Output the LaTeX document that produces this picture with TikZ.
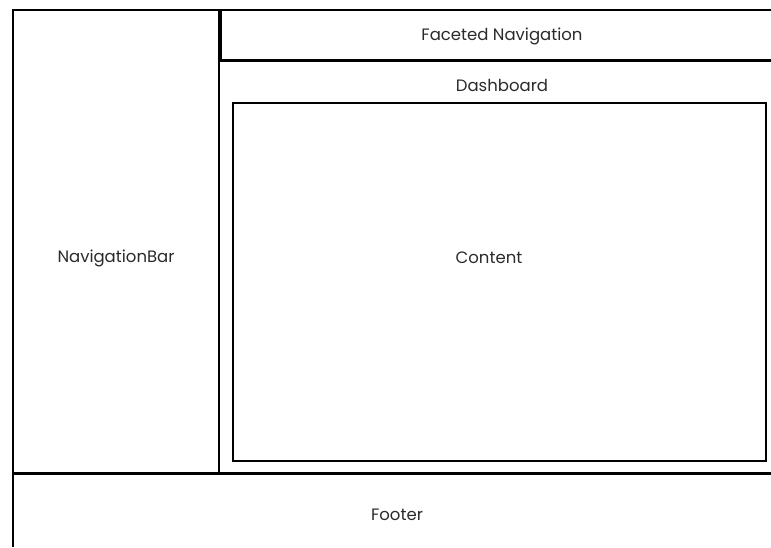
\documentclass[tikz,border=0pt]{standalone}
\usepackage{fontspec}
\setmainfont{Poppins}
\definecolor{txt}{HTML}{2A2A2A}
\tikzset{
  thin line/.style={line width=1.5pt, draw=black},
  thick line/.style={line width=3pt, draw=black},
  lbl/.style={font=\fontsize{16.5}{19}\selectfont, text=txt, inner sep=0pt},
}
\begin{document}
\begin{tikzpicture}[x=1pt,y=-1pt]
\useasboundingbox (0,0) rectangle (771,547);
% outer frame
\draw[thin line] (13,547) -- (13,10) -- (771,10);
% navigation bar right edge
\draw[thin line] (219,10) -- (219,473);
% faceted navigation borders
\draw[thick line] (220,10) -- (220,60);
\draw[thick line] (218.5,60) -- (771,60);
% footer top
\draw[thick line] (13,473) -- (771,473);
% content box
\draw[thin line] (233,103) rectangle (766,461);
% labels
\node[lbl] (facet) at (502,36) {Faceted Navigation};
\node[lbl] (dash) at (502,85) {Dashboard};
\node[lbl] (nav) at (116,258) {NavigationBar};
\node[lbl] (content) at (489,258) {Content};
\node[lbl] (footer) at (397,515) {Footer};
\end{tikzpicture}
\end{document}
